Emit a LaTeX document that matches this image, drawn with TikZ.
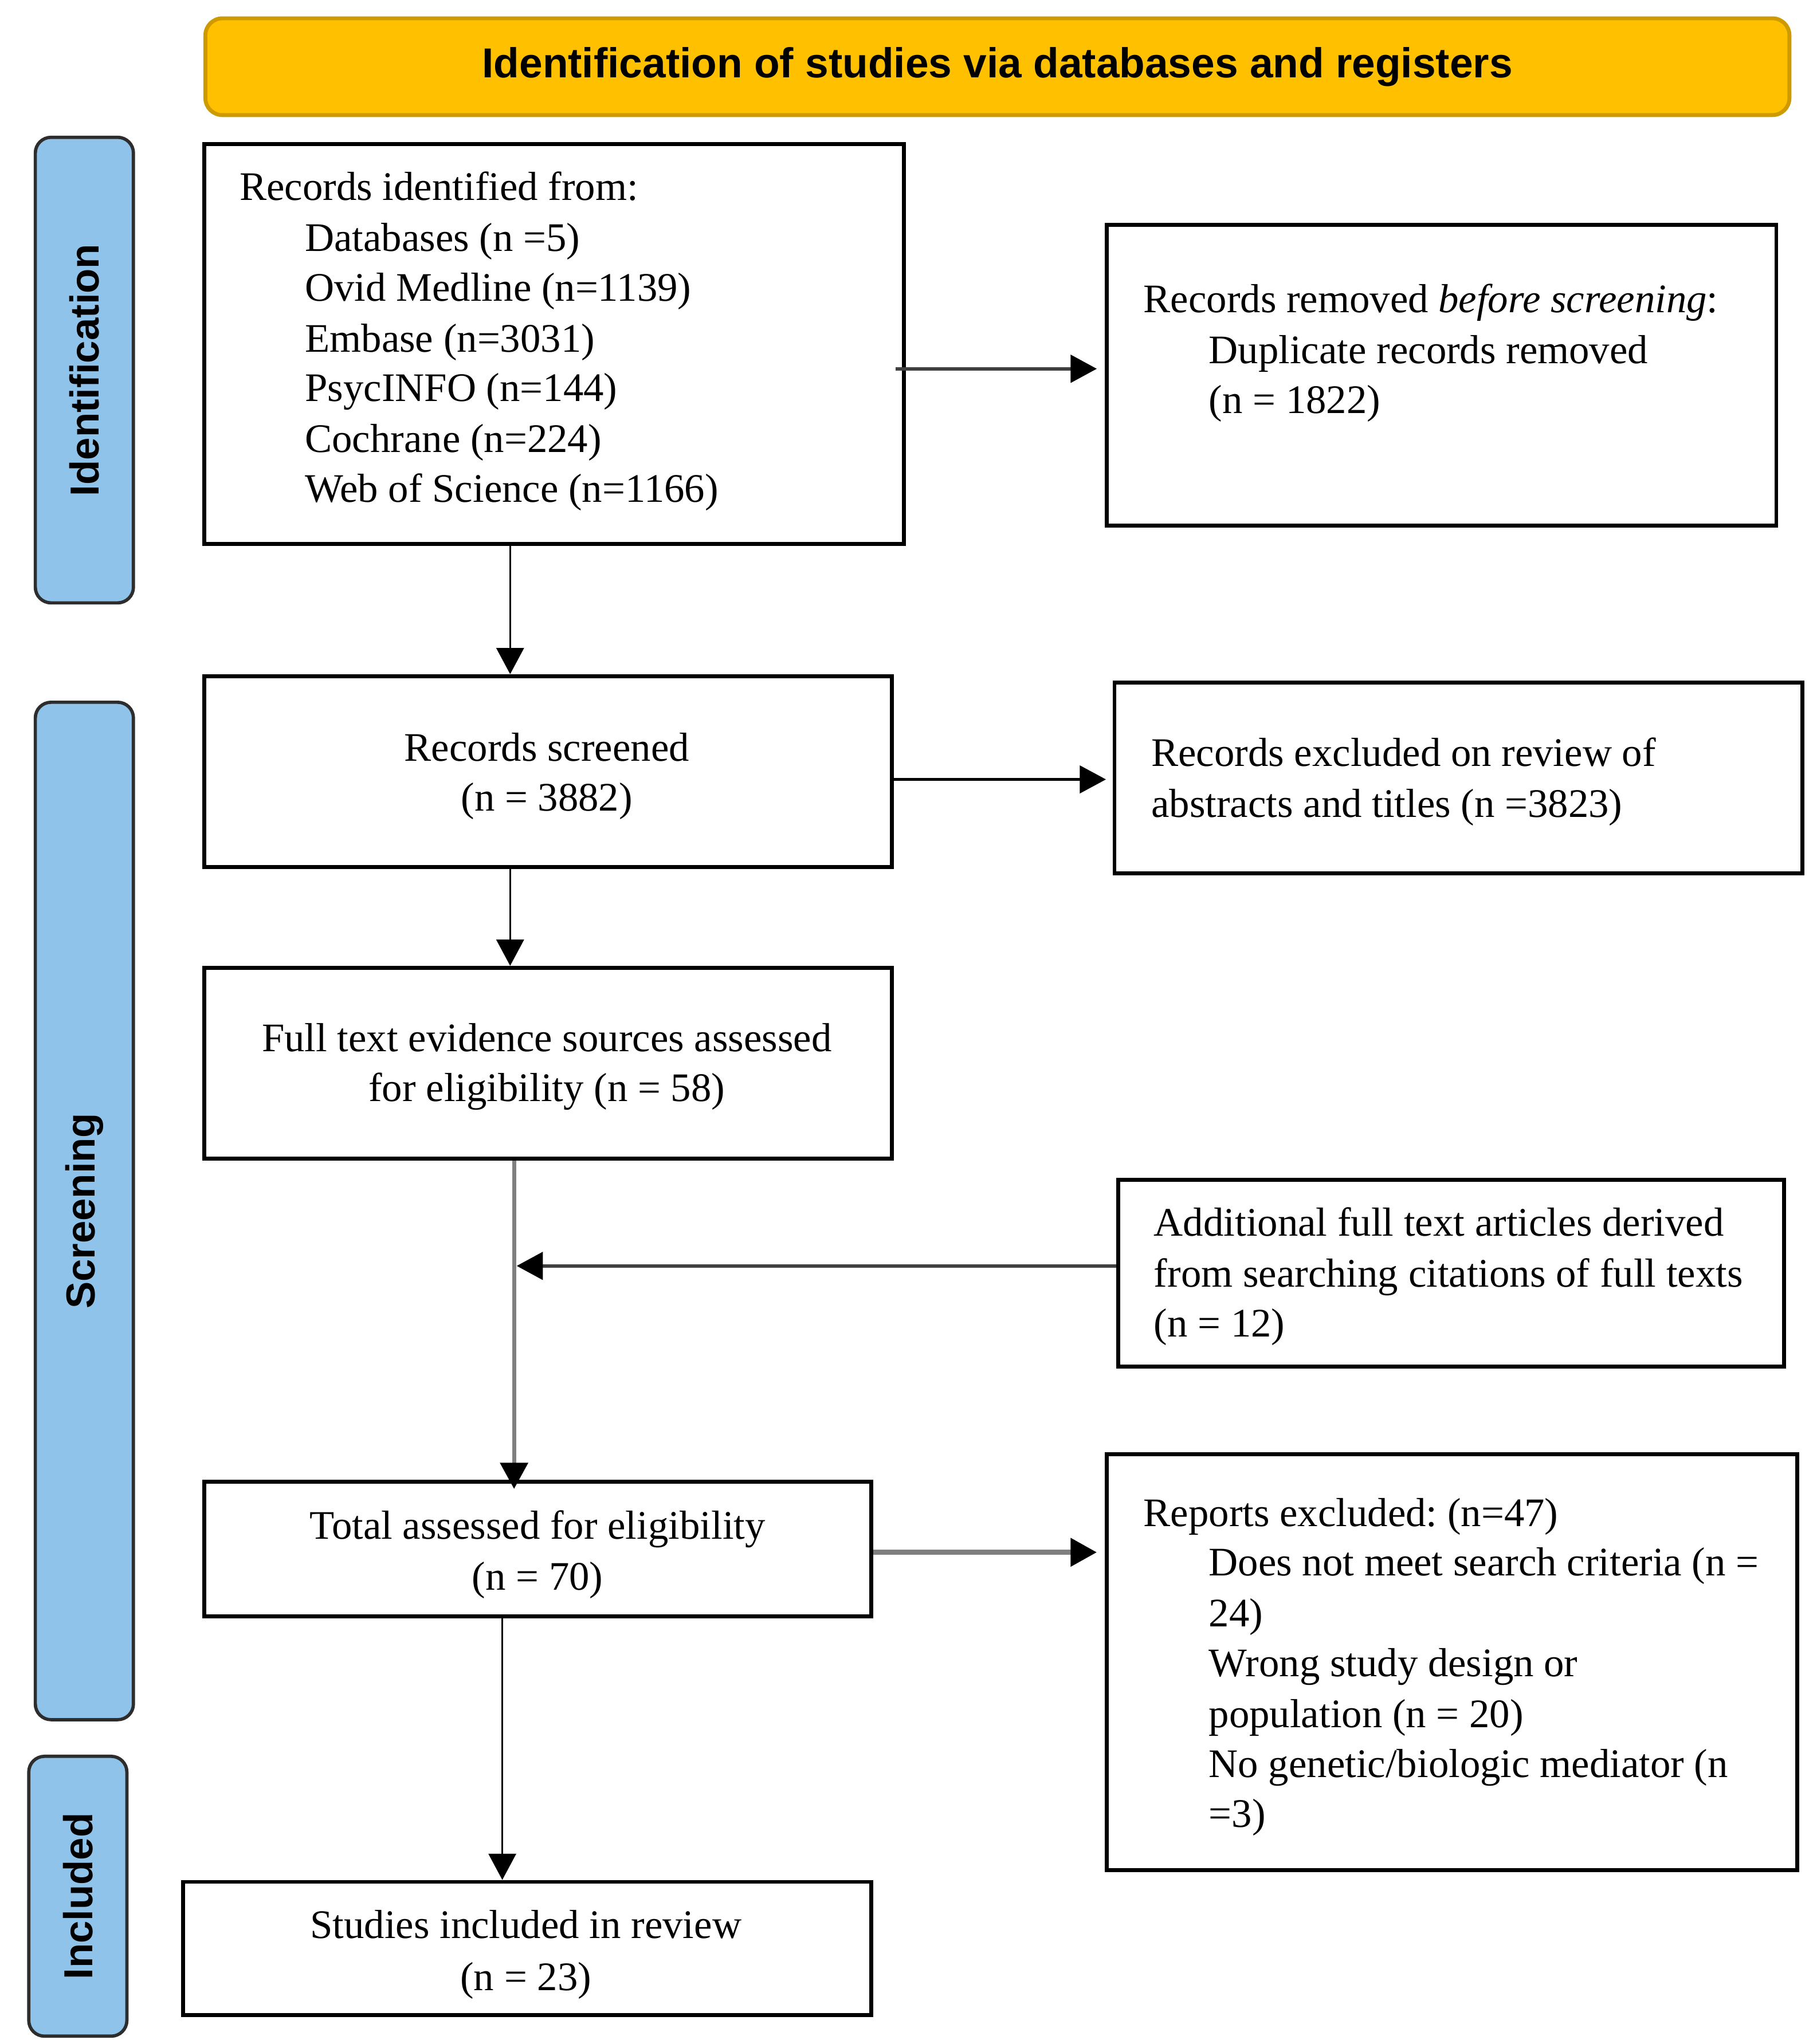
\documentclass[tikz,border=0pt]{standalone}
\usepackage{fontspec}
\setmainfont{Liberation Serif}
\newfontfamily\hsans{Liberation Sans}
\usetikzlibrary{arrows.meta}
\definecolor{hdrfill}{RGB}{255,192,0}
\definecolor{hdrdraw}{RGB}{205,155,0}
\definecolor{sidefill}{RGB}{143,195,233}
\definecolor{sidedraw}{RGB}{45,45,45}
\definecolor{lgray}{RGB}{127,127,127}
\definecolor{dgray}{RGB}{64,64,64}
\newcommand\bodysize{\fontsize{31}{38.3}\selectfont}
\newcommand\txtline[4]{\node[txt,anchor=#1] (#2) at (#3) {#4};}
\frenchspacing
\begin{document}
\frenchspacing
\begin{tikzpicture}[x=1pt,y=-1pt,
  box/.style={draw=black, line width=3pt, fill=white, inner sep=0pt, rectangle},
  side/.style={draw=sidedraw, fill=sidefill, line width=2.5pt, rounded corners=12pt, inner sep=0pt},
  sidelbl/.style={font=\hsans\fontsize{31}{36}\selectfont\bfseries, rotate=90, inner sep=0pt},
  hdr/.style={draw=hdrdraw, fill=hdrfill, line width=3pt, rounded corners=13pt, inner sep=0pt,
    font=\hsans\fontsize{32}{36}\selectfont\bfseries},
  txt/.style={inner sep=0pt, font=\bodysize},
  tipa/.style={-{Triangle[length=20pt,width=21pt,color=black]}},
  thinarr/.style={tipa, draw=black, line width=1.5pt},
  blkarr/.style={tipa, draw=black, line width=2pt},
  darr/.style={tipa, draw=dgray, line width=2.5pt},
  garr/.style={tipa, draw=lgray, line width=3pt},
  gthick/.style={tipa, draw=lgray, line width=4pt}
]
\useasboundingbox (0,0) rectangle (1386,1563);

% header
\node[hdr, minimum width=1211pt, minimum height=74pt] (hdr) at (762.5,51) {Identification of studies via databases and registers};

% side bars
\node[side, minimum width=75pt, minimum height=356pt] (sid) at (64.5,283) {};
\node[sidelbl] (lid) at (sid.center) {Identification};
\node[side, minimum width=75pt, minimum height=778pt] (sscr) at (64.5,926) {};
\node[sidelbl] (lscr) at (sscr.center) {Screening};
\node[side, minimum width=75pt, minimum height=214pt] (sinc) at (59.5,1450) {};
\node[sidelbl] (linc) at (sinc.center) {Included};

% boxes
\node[box, minimum width=535pt, minimum height=306pt] (b1) at (423.5,263) {};
\node[box, minimum width=512pt, minimum height=230pt] (b2) at (1102,287) {};
\node[box, minimum width=526pt, minimum height=146pt] (b3) at (419,590) {};
\node[box, minimum width=526pt, minimum height=146pt] (b4) at (1115,595) {};
\node[box, minimum width=526pt, minimum height=146pt] (b5) at (419,813) {};
\node[box, minimum width=509pt, minimum height=143pt] (b6) at (1109.5,973.5) {};
\node[box, minimum width=510pt, minimum height=103pt] (b7) at (411,1184.5) {};
\node[box, minimum width=528pt, minimum height=318pt] (b8) at (1110,1271) {};
\node[box, minimum width=526pt, minimum height=102pt] (b9) at (403,1490) {};

% texts box 1
\txtline{base west}{t1a}{183,153}{Records identified from:}
\txtline{base west}{t1b}{233,192}{Databases (n =5)}
\txtline{base west}{t1c}{233,230}{Ovid Medline (n=1139)}
\txtline{base west}{t1d}{233,269}{Embase (n=3031)}
\txtline{base west}{t1e}{233,307}{PsycINFO (n=144)}
\txtline{base west}{t1f}{233,346}{Cochrane (n=224)}
\txtline{base west}{t1g}{233,384}{Web of Science (n=1166)}
% box 2
\txtline{base west}{t2a}{874,239}{Records removed \textit{before screening}:}
\txtline{base west}{t2b}{924,278}{Duplicate records removed}
\txtline{base west}{t2c}{924,316}{(n = 1822)}
% box 3
\txtline{base}{t3a}{418,582}{Records screened}
\txtline{base}{t3b}{418,620}{(n = 3882)}
% box 4
\txtline{base west}{t4a}{880,586}{Records excluded on review of}
\txtline{base west}{t4b}{880,625}{abstracts and titles (n =3823)}
% box 5
\txtline{base}{t5a}{418,804}{Full text evidence sources assessed}
\txtline{base}{t5b}{418,842}{for eligibility (n = 58)}
% box 6
\txtline{base west}{t6a}{882,945}{Additional full text articles derived}
\txtline{base west}{t6b}{882,984}{from searching citations of full texts}
\txtline{base west}{t6c}{882,1022}{(n = 12)}
% box 7
\txtline{base}{t7a}{411,1177}{Total assessed for eligibility}
\txtline{base}{t7b}{411,1216}{(n = 70)}
% box 8
\txtline{base west}{t8a}{874,1167}{Reports excluded: (n=47)}
\txtline{base west}{t8b}{924,1205}{Does not meet search criteria (n =}
\txtline{base west}{t8c}{924,1244}{24)}
\txtline{base west}{t8d}{924,1282}{Wrong study design or}
\txtline{base west}{t8e}{924,1321}{population (n = 20)}
\txtline{base west}{t8f}{924,1359}{No genetic/biologic mediator (n}
\txtline{base west}{t8g}{924,1397}{=3)}
% box 9
\txtline{base}{t9a}{402,1482}{Studies included in review}
\txtline{base}{t9b}{402,1522}{(n = 23)}

% connector guides
\coordinate (xa) at (390,0);
\coordinate (xb) at (393,0);
\coordinate (xc) at (384,0);
\coordinate (ya) at (0,282);
\coordinate (yb) at (0,596);
\coordinate (yc) at (0,968);
\coordinate (yd) at (0,1187);
\coordinate (jn) at (395,968);

% connectors
\draw[thinarr] (b1.south -| xa) -- (b3.north -| xa);
\draw[darr] ([xshift=-8pt]b1.east |- ya) -- ([xshift=-6pt]b2.west |- ya);
\draw[blkarr] (b3.east |- yb) -- ([xshift=-5pt]b4.west |- yb);
\draw[thinarr] (b3.south -| xa) -- (b5.north -| xa);
\draw[garr] (b5.south -| xb) -- ([yshift=-7pt]b7.north -| xb);
\draw[darr] (b6.west |- yc) -- (jn);
\draw[gthick] (b7.east |- yd) -- ([xshift=-6pt]b8.west |- yd);
\draw[thinarr] (b7.south -| xc) -- (b9.north -| xc);
\end{tikzpicture}
\end{document}
